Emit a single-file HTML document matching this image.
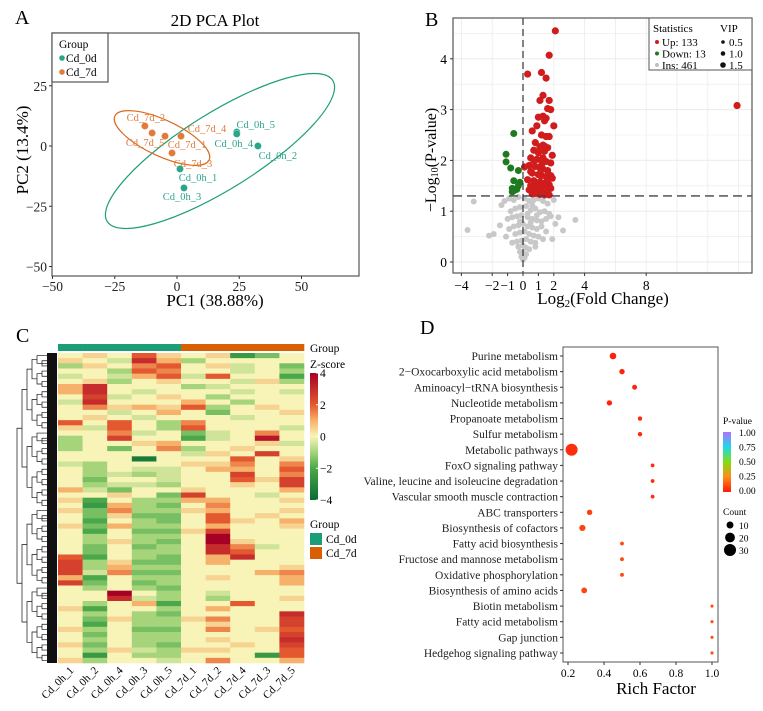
<!DOCTYPE html>
<html><head><meta charset="utf-8"><style>
html,body{margin:0;padding:0;background:#fff;}
svg{display:block;font-family:"Liberation Serif",serif;}
</style></head><body>
<svg id="fig" width="763" height="711" viewBox="0 0 763 711" xmlns="http://www.w3.org/2000/svg">
<g id="pA"></g>
<g id="pB"></g>
<g id="pC"></g>
<g id="pD"></g>
</svg>
<script>
// ---------- Panel A data ----------
const pcaNames = ["Cd_7d_2","Cd_7d_5","Cd_7d_1","Cd_7d_4","Cd_7d_3","Cd_0h_5","Cd_0h_4","Cd_0h_2","Cd_0h_1","Cd_0h_3"];
const pcaGroup = ["7d","7d","7d","7d","7d","0d","0d","0d","0d","0d"];
const pcaPC1 = [-12.9,-10,-4.8,1.6,-2,24,24,32.5,1.2,2.8];
const pcaPC2 = [8.3,5.4,4.1,4.1,-2.9,5.8,5.0,0,-9.5,-17.4];
const pcaXTicks = [-50,-25,0,25,50];
const pcaYTicks = [25,0,-25,-50];
// ---------- Panel B data ----------
const upX = [2.1,1.7,0.3,1.2,1.5,1.3,1.1,1.7,1.6,1.8,13.9,1.0,1.3,1.5,1.4,2.0,0.6,0.9,1.2,1.5,1.7,0.8,1.1,1.3,1.6,0.7,1.0,1.4,1.9,0.5,0.9,1.2,1.5,1.8,0.4,0.8,1.1,1.3,1.6,0.6,1.0,1.2,1.5,1.9,0.3,0.7,1.1,1.4,1.7,0.5,0.9,1.2,1.6,1.8,0.4,0.8,1.0,1.3,1.5,0.6,1.1,1.4,1.7,0.9,1.2,0.5,1.3,1.6,0.7,1.0,0.1,1.8,1.4,0.8];
const upY = [4.55,4.07,3.7,3.73,3.62,3.28,3.18,3.18,3.02,3.0,3.08,2.85,2.87,2.83,2.78,2.68,2.58,2.68,2.5,2.47,2.47,2.35,2.27,2.3,2.25,2.2,2.15,2.18,2.1,2.05,2.02,2.0,1.98,1.95,1.9,1.88,1.85,1.83,1.8,1.75,1.72,1.7,1.68,1.65,1.62,1.6,1.58,1.55,1.52,1.5,1.48,1.45,1.47,1.45,1.42,1.4,1.38,1.36,1.35,1.34,1.33,1.32,1.32,1.55,1.9,1.78,2.05,1.62,2.0,1.5,1.87,1.7,2.28,1.35];
const downX = [-0.6,-1.1,-1.1,-0.8,-0.3,-0.6,-0.2,-0.7,-0.5,-0.6,-0.4,-0.7,-0.3];
const downY = [2.53,2.12,1.97,1.85,1.8,1.6,1.57,1.45,1.43,1.4,1.43,1.38,1.5];
const insX = [-3.6,-3.2,-2.2,-1.9,-1.4,3.4,2.6,1.9,2.3,-1.2,-0.9,-0.6,-0.3,0.1,0.4,0.7,1.0,1.3,1.6,2.0,-0.8,-0.5,-0.2,0.2,0.5,0.8,1.1,1.4,1.7,-1.0,-0.7,-0.4,-0.1,0.3,0.6,0.9,1.2,1.5,-0.6,-0.3,0.0,0.3,0.6,0.9,1.2,-0.5,-0.2,0.1,0.4,0.7,1.0,-0.4,-0.1,0.2,0.5,0.8,-0.3,0.0,0.2,0.4,-0.2,0.0,0.2,-0.1,0.1,0.0,1.8,2.1,-1.5,-1.1,1.5,0.9,-0.9,0.6,-0.7,1.3,0.3,-0.2,0.8,0.5];
const insY = [0.63,1.19,0.52,0.55,1.12,0.83,0.62,0.45,0.88,1.2,1.25,1.22,1.28,1.25,1.2,1.22,1.25,1.2,1.15,1.22,1.0,1.05,1.08,1.1,1.02,1.05,0.98,1.0,0.95,0.85,0.88,0.9,0.92,0.88,0.85,0.82,0.8,0.85,0.7,0.72,0.75,0.7,0.68,0.65,0.7,0.55,0.58,0.6,0.55,0.52,0.5,0.4,0.42,0.45,0.4,0.38,0.3,0.32,0.28,0.25,0.2,0.18,0.15,0.1,0.08,0.05,0.9,0.75,0.72,0.5,0.6,0.92,0.65,1.12,0.38,0.45,0.95,0.8,0.3,0.78];
const volXTicks = [-4,-2,-1,0,1,2,4,8];
const volYTicks = [0,1,2,3,4];
// ---------- Panel C data ----------
const sampleNames = ["Cd_0h_1","Cd_0h_2","Cd_0h_4","Cd_0h_3","Cd_0h_5","Cd_7d_1","Cd_7d_2","Cd_7d_4","Cd_7d_3","Cd_7d_5"];
const sampleGroup = ["0d","0d","0d","0d","0d","7d","7d","7d","7d","7d"];
const zRows = [
[0,0.5,0,2,0.5,0,0.5,-2.5,-1.5,0],[0.5,0,-0.5,3,1,-1,0,0,0,0],[-1,0.5,0,1.5,2,0,0.5,-0.5,0,-1.5],[0,0,-1,2,1.5,0,0,-0.5,0,-1],
[-0.5,0,-0.5,1,2,-0.5,2,0,0,-2],[0,0.5,-1,0,0.5,0,0,-0.5,0.5,-1],[1,3,0,0,0,-1,-0.5,0,0,0],[1,3,0,-0.5,0,0,0,-0.5,0,-0.5],
[0,2.5,-0.5,0,0.5,0,-1,0,0,0],[-0.5,3,0,0,0,1,0,-1,0,0],[0,1.5,0.5,1,0.5,2,-1,0,0.5,0],[0,0,-0.5,0,1,0,-1.5,0,0,0.5],
[0,0.5,0,-0.5,0,0,0,-0.5,0,0],[2,0,2,0,-1,1.5,0,0,0,0],[0.5,-0.5,2,0,-1,2,0,0,0,-0.5],[0,0,1.5,-0.5,0,-1.5,-0.5,0,1.5,0],
[-1,0,2.5,0,0,-2,-0.5,0,3.5,0],[-1,0,0,0.5,1,0,0,0,0.5,-0.5],[-1,0,-1.5,0,1.5,-1,0,0.5,0,0],[0,0,0,0,0,-0.5,0.5,0,2.5,0],
[0,0,0,-3.5,0,0,0,2,0,0.5],[-0.5,-1,0,0,0,0.5,0.5,1.5,0,1.5],[0,-1,0,-0.5,-0.5,0,1,1,0,2],[0,-1,-0.5,-1,-0.5,0,0,2.5,0,1.5],
[0,-1.5,0,0,-0.5,0,0,2,0.5,2.5],[0,-1,-0.5,-0.5,-1,0,0,0.5,0,2.5],[1,-0.5,-1.5,0,0,0.5,0,0,0,1],[0,0,0.5,0,-1.5,2.5,0,0,-0.5,0],
[0.5,-2,0,-1,-1,1,1,0,0,0.5],[0,-2.5,1,-1,-1.5,0,1.5,0,0,0],[0.5,-1.5,1.5,-1,-1,0.5,1,0,0,0.5],[0,-1.5,0.5,-1.5,-1.5,0,2,0,0.5,0],
[0,-2,0,-1,-1.5,0,2,0.5,0,1],[0.5,-1.5,1,-1,-1,0,1,0,0,0.5],[0,-2,0,-1.5,-1.5,0.5,2.5,0,0,0],[0,-1,0,-1,-1,0,4,0,0,0],
[0,-1,0.5,-1,-1.5,0,4,0.5,0,0],[0,-1.5,0,-1.5,-1,0,3,1.5,-0.5,0],[0,-1.5,0,-1,-1,0,3,2,0,0],[2,-2,0,-1,-1.5,0,1,3,0,0],
[2.5,-1,0.5,-1.5,-1.5,0,1,0,0,0],[2.5,-1,1,-1,-1,0,0,0,0,0.5],[2.5,-0.5,1.5,-1.5,-1.5,0,0,0,1,1.5],[1,-2,0,-1,-1,0,0.5,0,0,1],
[2.5,-1.5,0,-1.5,-1,0,0,0,0,1],[0,-1,0,-1,-1.5,0,0,0,0,0],[0,0,4,0,-1,0,-0.5,0,0,0],[0,0,3,-0.5,-1,0,-1,0,0,0.5],
[0,-1,0,1,-2,0,0,2,0,0],[0.5,-2,0,0,-1,0,1,0,0,0],[0,-1,0,-1,-1.5,0,0,0,0,3],[0,-1.5,0.5,-1,-1,0.5,1.5,0,0,2.5],
[0,-2,0,-1,-1,0,0.5,0,0,2.5],[0.5,-1,0,-1.5,-1.5,0,1.5,0,0.5,2],[0,-1.5,0,-1,-1,0,0,0,0,2.5],[0,-1,0,-1,-1,0,0.5,0,0,3],
[0.5,-1.5,0,-1,-1.5,0,0,0.5,0,2.5],[0,-1,0.5,-0.5,-1,0.5,0.5,0,0,2],[0,-2.5,0,-1,-1,0,0,0,-2.5,2],[0.5,-1,0,0,-0.5,0,1.5,0,0,1]
];
const zTicks = [4,2,0,-2,-4];
// ---------- Panel D data ----------
const pathways = ["Purine metabolism","2\u2212Oxocarboxylic acid metabolism","Aminoacyl\u2212tRNA biosynthesis","Nucleotide metabolism","Propanoate metabolism","Sulfur metabolism","Metabolic pathways","FoxO signaling pathway","Valine, leucine and isoleucine degradation","Vascular smooth muscle contraction","ABC transporters","Biosynthesis of cofactors","Fatty acid biosynthesis","Fructose and mannose metabolism","Oxidative phosphorylation","Biosynthesis of amino acids","Biotin metabolism","Fatty acid metabolism","Gap junction","Hedgehog signaling pathway"];
const richFactor = [0.45,0.50,0.57,0.43,0.60,0.60,0.22,0.67,0.67,0.67,0.32,0.28,0.50,0.50,0.50,0.29,1.0,1.0,1.0,1.0];
const pathCount = [9,6,5,6,4,4,30,3,3,3,6,8,3,3,3,7,2,2,2,2];
const pathP = [0.01,0.02,0.02,0.02,0.03,0.03,0.04,0.04,0.04,0.04,0.08,0.09,0.1,0.1,0.1,0.1,0.12,0.12,0.12,0.12];
const richTicks = [0.2,0.4,0.6,0.8,1.0];
const pTicks = [1.00,0.75,0.50,0.25,0.00];
const countTicks = [10,20,30];

const NS="http://www.w3.org/2000/svg";
function mk(parent,tag,attrs,text){const e=document.createElementNS(NS,tag);for(const k in attrs)e.setAttribute(k,attrs[k]);if(text!==undefined)e.textContent=text;parent.appendChild(e);return e;}
function lerpHex(a,b,t){const pa=[1,3,5].map(i=>parseInt(a.substr(i,2),16)),pb=[1,3,5].map(i=>parseInt(b.substr(i,2),16));return "rgb("+pa.map((v,i)=>Math.round(v+(pb[i]-v)*t)).join(",")+")";}
function scaleColor(stops,v){if(v<=stops[0][0])return stops[0][1];for(let i=1;i<stops.length;i++){if(v<=stops[i][0]){const t=(v-stops[i-1][0])/(stops[i][0]-stops[i-1][0]);return lerpHex(stops[i-1][1],stops[i][1],t);}}return stops[stops.length-1][1];}

// ================= Panel A =================
(function(){
const g=document.getElementById('pA');
const xA=v=>177+v*2.49, yA=v=>146-v*2.41;
let t;
t=mk(g,'text',{x:15,y:24,'font-size':20});t.textContent='A';

t=mk(g,'text',{x:215,y:26,'font-size':17,'text-anchor':'middle'},'2D PCA Plot');

const frame=mk(g,'rect',{x:52,y:33,width:307,height:243,fill:'none',stroke:'#555','stroke-width':1.2});

pcaXTicks.forEach(v=>{mk(g,'line',{x1:xA(v),x2:xA(v),y1:276,y2:279,stroke:'#333'});
 const l=mk(g,'text',{x:xA(v),y:291,'font-size':13.5,'text-anchor':'middle',fill:'#222'},(v<0?'\u2212':'')+Math.abs(v));
 });
pcaYTicks.forEach(v=>{mk(g,'line',{x1:49,x2:52,y1:yA(v),y2:yA(v),stroke:'#333'});
 const l=mk(g,'text',{x:47,y:yA(v)+5,'font-size':13.5,'text-anchor':'end',fill:'#222'},(v<0?'\u2212':'')+Math.abs(v));
 });
t=mk(g,'text',{x:215,y:306,'font-size':17,'text-anchor':'middle'},'PC1 (38.88%)');

t=mk(g,'text',{x:0,y:0,'font-size':17,'text-anchor':'middle',transform:'translate(28,150) rotate(-90)'},'PC2 (13.4%)');

let e=mk(g,'ellipse',{cx:220,cy:151,rx:133,ry:38,fill:'none',stroke:'#1f9e78','stroke-width':1.2,transform:'rotate(-32 220 151)'});

e=mk(g,'ellipse',{cx:162,cy:138,rx:52,ry:18,fill:'none',stroke:'#d96b1e','stroke-width':1.2,transform:'rotate(25 162 138)'});

const offs=[[1,-9],[-7,9],[22,8],[26,-8],[21,10],[19,-8],[-3,9],[20,9],[18,8],[-2,8]];
pcaPC1.forEach((v,i)=>{const c=pcaGroup[i]==='7d'?'#e07b39':'#2aa58a';
 const px=xA(v),py=yA(pcaPC2[i]);
 const p=mk(g,'circle',{cx:px,cy:py,r:3.6,fill:c,stroke:'#fff','stroke-opacity':0.4,'stroke-width':0.8});
 
 const l=mk(g,'text',{x:px+offs[i][0],y:py+offs[i][1]+4,'font-size':10.5,'text-anchor':'middle',fill:c},pcaNames[i]);
 });
const lg=mk(g,'g',{});
mk(lg,'rect',{x:52,y:33,width:56,height:49,fill:'#fff',stroke:'#555','stroke-width':1.2});
mk(lg,'text',{x:59,y:48,'font-size':11.5},'Group');
mk(lg,'circle',{cx:62,cy:58,r:2.8,fill:'#2aa58a'});mk(lg,'text',{x:66,y:62,'font-size':11.5},'Cd_0d');
mk(lg,'circle',{cx:62,cy:72,r:2.8,fill:'#e07b39'});mk(lg,'text',{x:66,y:76,'font-size':11.5},'Cd_7d');
})();

// ================= Panel B =================
(function(){
const g=document.getElementById('pB');
const xB=v=>523+v*15.4, yB=v=>262-v*50.8;
let t=mk(g,'text',{x:425,y:26,'font-size':20},'B');

mk(g,'rect',{x:453,y:18,width:299,height:255,fill:'#fff'});
for(let v=-4;v<=14;v+=2){mk(g,'line',{x1:xB(v),x2:xB(v),y1:18,y2:273,stroke:'#ebebeb','stroke-width':0.8});}
for(let v=0;v<=4.5;v+=0.5){mk(g,'line',{x1:453,x2:752,y1:yB(v),y2:yB(v),stroke:'#ebebeb','stroke-width':v%1===0?1:0.6});}
function pts(xs,ys,col,r,name){xs.forEach((v,i)=>{const c=mk(g,'circle',{cx:xB(v),cy:yB(ys[i]),r:r,fill:col});
 });}
pts(insX,insY,'#c8c8c8',3,'insignificant-point');
pts(downX,downY,'#1f7a1f',3.5,'down-point');
pts(upX,upY,'#d01c1c',3.6,'up-point');
mk(g,'line',{x1:xB(0),x2:xB(0),y1:18,y2:273,stroke:'#333','stroke-width':1.2,'stroke-dasharray':'7,4'});
mk(g,'line',{x1:453,x2:752,y1:yB(1.3),y2:yB(1.3),stroke:'#444','stroke-width':1.3,'stroke-dasharray':'9,5'});
const fr=mk(g,'rect',{x:453,y:18,width:299,height:255,fill:'none',stroke:'#555','stroke-width':1.2});

volXTicks.forEach(v=>{mk(g,'line',{x1:xB(v),x2:xB(v),y1:273,y2:276,stroke:'#333'});
 const l=mk(g,'text',{x:xB(v),y:290,'font-size':13.5,'text-anchor':'middle'},(v<0?'\u2212':'')+Math.abs(v));
 });
volYTicks.forEach(v=>{mk(g,'line',{x1:450,x2:453,y1:yB(v),y2:yB(v),stroke:'#333'});
 const l=mk(g,'text',{x:447,y:yB(v)+5,'font-size':13.5,'text-anchor':'end'},String(v));
 });
t=mk(g,'text',{x:603,y:304,'font-size':17,'text-anchor':'middle'});
t.innerHTML='Log<tspan font-size="11" dy="3">2</tspan><tspan dy="-3">(Fold Change)</tspan>';

t=mk(g,'text',{x:0,y:0,'font-size':16,'text-anchor':'middle',transform:'translate(436,160) rotate(-90)'});
t.innerHTML='\u2212Log<tspan font-size="10" dy="2">10</tspan><tspan dy="-2">(P-value)</tspan>';

const lg=mk(g,'g',{});
mk(lg,'rect',{x:649,y:18,width:103,height:52,fill:'#fff',stroke:'#555','stroke-width':1});
mk(lg,'text',{x:653,y:32,'font-size':11},'Statistics');mk(lg,'text',{x:720,y:32,'font-size':11},'VIP');
[['Up: 133','#d01c1c'],['Down: 13','#1f7a1f'],['Ins: 461','#c0c0c0']].forEach((a,i)=>{
 mk(lg,'circle',{cx:657,cy:42+i*11.5,r:2,fill:a[1]});mk(lg,'text',{x:662,y:46+i*11.5,'font-size':11},a[0]);});
['0.5','1.0','1.5'].forEach((s,i)=>{mk(lg,'circle',{cx:723,cy:42+i*11.5,r:1.8+i*0.5,fill:'#111'});mk(lg,'text',{x:729,y:46+i*11.5,'font-size':11},s);});
})();

// ================= Panel C =================
(function(){
const g=document.getElementById('pC');
let t=mk(g,'text',{x:16,y:342,'font-size':20},'C');

const X0=58,X1=304,Y0=353,Y1=663;
const cw=(X1-X0)/sampleNames.length, rh=(Y1-Y0)/zRows.length;
const zStops=[[-4,'#0b6b35'],[-2,'#4aa84a'],[-1,'#a6d47a'],[0,'#f8f4b8'],[1,'#f6b26b'],[2,'#e4582f'],[4,'#a50026']];
sampleGroup.forEach((s,j)=>{const r=mk(g,'rect',{x:X0+j*cw,y:344,width:cw+0.3,height:7,fill:s==='0d'?'#1b9e77':'#d95f02'});
 });
zRows.forEach((row,i)=>row.forEach((v,j)=>{const r=mk(g,'rect',{x:X0+j*cw,y:Y0+i*rh,width:cw+0.3,height:rh+0.3,fill:scaleColor(zStops,v)});
 }));
const dg=mk(g,'g',{stroke:'#111','stroke-width':0.7,fill:'none'});
mk(dg,'rect',{x:47,y:Y0,width:10,height:Y1-Y0,fill:'#111',stroke:'none'});
function tree(a,b,depth){
 if(b-a<=1){return Y0+(a+0.5)*rh;}
 const m=Math.floor((a+b)/2);const y1=tree(a,m,depth+1),y2=tree(m,b,depth+1);
 const xh=Math.max(16,47-(6-Math.min(depth,6))*5);
 const xc1=b-a<=3?47:Math.max(16,47-(6-Math.min(depth+1,6))*5), xc2=xc1;
 mk(dg,'path',{d:`M${xc1},${y1}H${xh}V${y2}H${xc2}`});return (y1+y2)/2;}
tree(0,zRows.length,0);
sampleNames.forEach((s,j)=>{const cx=X0+(j+0.5)*cw;
 const l=mk(g,'text',{x:0,y:0,'font-size':11,'text-anchor':'end',transform:`translate(${cx+4},${Y1+8}) rotate(-45)`},s);
 });
mk(g,'text',{x:310,y:352,'font-size':11.5},'Group');
mk(g,'text',{x:310,y:368,'font-size':11.5},'Z-score');
const defs=mk(g,'defs',{});const lgd=mk(defs,'linearGradient',{id:'zg',x1:0,y1:0,x2:0,y2:1});
[[4,0],[2,0.25],[1,0.375],[0,0.5],[-1,0.625],[-2,0.75],[-4,1]].forEach(a=>mk(lgd,'stop',{offset:a[1],'stop-color':scaleColor(zStops,a[0])}));
const cb=mk(g,'rect',{x:310,y:373,width:8,height:127,fill:'url(#zg)'});

zTicks.forEach(v=>{const y=373+(4-v)/8*127;mk(g,'line',{x1:316,x2:318,y1:y,y2:y,stroke:'#fff'});
 const l=mk(g,'text',{x:320,y:y+4,'font-size':11.5},(v<0?'\u2212':'')+Math.abs(v));});
mk(g,'text',{x:310,y:528,'font-size':11.5},'Group');
mk(g,'rect',{x:310,y:533,width:12,height:12,fill:'#1b9e77'});
mk(g,'text',{x:326,y:543,'font-size':11.5},'Cd_0d');
mk(g,'rect',{x:310,y:547,width:12,height:12,fill:'#d95f02'});
mk(g,'text',{x:326,y:557,'font-size':11.5},'Cd_7d');
})();

// ================= Panel D =================
(function(){
const g=document.getElementById('pD');
const xD=v=>568+(v-0.2)*180, yD=i=>356+i*15.63;
let t=mk(g,'text',{x:420,y:334,'font-size':20},'D');

const fr=mk(g,'rect',{x:563,y:347,width:155,height:315,fill:'none',stroke:'#555','stroke-width':1});

const pStops=[[0,'#ff1a0a'],[0.25,'#ff8c1a'],[0.5,'#80df10'],[0.75,'#20d8e8'],[1,'#b070ff']];
pathways.forEach((p,i)=>{mk(g,'line',{x1:560,x2:563,y1:yD(i),y2:yD(i),stroke:'#333'});
 const l=mk(g,'text',{x:558,y:yD(i)+4,'font-size':11.5,'text-anchor':'end',fill:'#222'},p);
 
 const c=mk(g,'circle',{cx:xD(richFactor[i]),cy:yD(i),r:Math.sqrt(pathCount[i])*1.1,fill:scaleColor(pStops,pathP[i])});
 });
richTicks.forEach(v=>{mk(g,'line',{x1:xD(v),x2:xD(v),y1:662,y2:665,stroke:'#333'});
 const l=mk(g,'text',{x:xD(v),y:677,'font-size':11.5,'text-anchor':'middle'},v.toFixed(1));
 });
t=mk(g,'text',{x:656,y:694,'font-size':17,'text-anchor':'middle'},'Rich Factor');

mk(g,'text',{x:723,y:424,'font-size':9.5},'P-value');
const defs=mk(g,'defs',{});const lg=mk(defs,'linearGradient',{id:'pg',x1:0,y1:0,x2:0,y2:1});
[[1,0],[0.75,0.25],[0.5,0.5],[0.25,0.75],[0,1]].forEach(a=>mk(lg,'stop',{offset:a[1],'stop-color':scaleColor(pStops,a[0])}));
const cb=mk(g,'rect',{x:723,y:432,width:8,height:60,fill:'url(#pg)'});

pTicks.forEach(v=>{const l=mk(g,'text',{x:739,y:432+(1-v)*58+4,'font-size':9.5},v.toFixed(2));
 });
mk(g,'text',{x:723,y:515,'font-size':9.5},'Count');
countTicks.forEach((v,i)=>{const y=525+i*12.5;mk(g,'circle',{cx:730,cy:y,r:Math.sqrt(v)*1.1,fill:'#000'});
 mk(g,'text',{x:739,y:y+4,'font-size':9.5},String(v));});
})();
</script>
</body></html>
